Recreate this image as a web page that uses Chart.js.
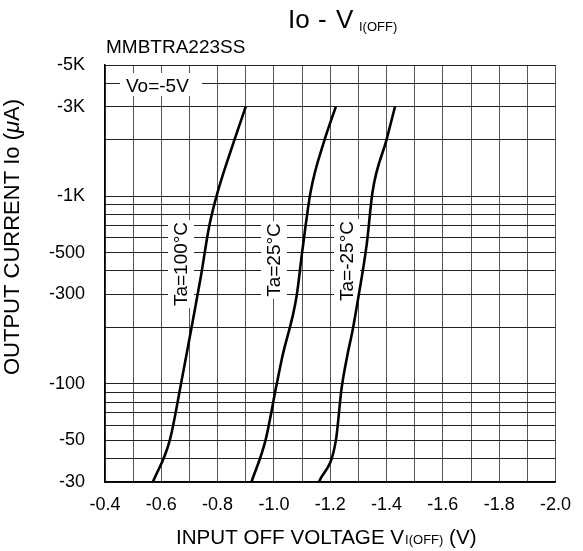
<!DOCTYPE html>
<html>
<head>
<meta charset="utf-8">
<script src="https://cdn.jsdelivr.net/npm/chart.js@4.4.0/dist/chart.umd.min.js"></script>
<style>
html, body { margin: 0; padding: 0; background: #fff; }
canvas { display: block; }
</style>
</head>
<body>
<canvas id="chart" width="583" height="551"></canvas>
<script>
// curves (V in volts, Io in uA, both negative on the sheet)
const volt100 = [-0.57, -0.63, -0.67, -0.71, -0.74, -0.77, -0.80, -0.86, -0.90];
const curr100 = [30, 50, 100, 210, 370, 690, 1050, 2000, 3000];
const volt25 = [-0.92, -0.97, -1.01, -1.03, -1.08, -1.10, -1.13, -1.18, -1.22];
const curr25 = [30, 50, 100, 140, 290, 500, 1050, 2000, 3000];
const voltM25 = [-1.16, -1.22, -1.24, -1.26, -1.28, -1.30, -1.33, -1.35, -1.40, -1.43];
const currM25 = [30, 50, 94, 140, 195, 290, 560, 1050, 2000, 3000];

const voltGrid = [-0.4, -0.5, -0.6, -0.7, -0.8, -0.9, -1.0, -1.1, -1.2, -1.3, -1.4, -1.5, -1.6, -1.7, -1.8, -1.9, -2.0];
const voltLabels = [-0.4, -0.6, -0.8, -1.0, -1.2, -1.4, -1.6, -1.8, -2.0];
const currGrid = [30, 40, 50, 60, 70, 80, 90, 100, 200, 300, 400, 500, 600, 700, 800, 900, 1000, 2000, 3000, 4000, 5000];
const currLabels = [30, 50, 100, 300, 500, 1000, 3000, 5000];

const tempNames = ['Ta=100°C', 'Ta=25°C', 'Ta=-25°C'];

const FONT = '"Liberation Sans", Arial, Helvetica, sans-serif';

function pts(xs, ys) {
  return xs.map((x, i) => ({ x: x, y: ys[i] }));
}

function curve(xs, ys) {
  return {
    data: pts(xs, ys),
    borderColor: '#000',
    borderWidth: 2.6,
    pointRadius: 0,
    fill: false,
    cubicInterpolationMode: 'monotone'
  };
}

const textPlugin = {
  id: 'sheetText',
  beforeDatasetsDraw(chart) {
    const ctx = chart.ctx;
    ctx.save();
    ctx.textBaseline = 'alphabetic';

    // condition box
    ctx.fillStyle = '#fff';
    ctx.fillRect(120, 73, 82, 23);
    ctx.fillStyle = '#000';
    ctx.font = '19px ' + FONT;
    ctx.textAlign = 'left';
    ctx.fillText('Vo=-5V', 126, 92);

    // temperature notes, rotated
    const spots = [[181, 264], [274, 260], [347, 261]];
    tempNames.forEach((t, i) => {
      ctx.save();
      ctx.translate(spots[i][0], spots[i][1]);
      ctx.rotate(-Math.PI / 2);
      ctx.font = '19px ' + FONT;
      const w = ctx.measureText(t).width;
      ctx.fillStyle = '#fff';
      ctx.fillRect(-w / 2 - 2, -13, w + 4, 26);
      ctx.fillStyle = '#000';
      ctx.textAlign = 'center';
      ctx.textBaseline = 'middle';
      ctx.fillText(t, 0, 1);
      ctx.restore();
    });
    ctx.restore();
  },
  afterDraw(chart) {
    const ctx = chart.ctx;
    ctx.save();
    ctx.fillStyle = '#000';
    ctx.textAlign = 'left';
    ctx.textBaseline = 'alphabetic';

    // title Io - V I(OFF)
    ctx.font = '26px ' + FONT;
    ctx.fillText('Io', 288, 28);
    ctx.fillText('-', 318, 28);
    ctx.fillText('V', 336, 28);
    ctx.font = '13px ' + FONT;
    ctx.fillText('I(OFF)', 359, 31);

    // part number
    ctx.font = '19px ' + FONT;
    ctx.fillText('MMBTRA223SS', 106, 53);

    // x title
    let x = 176;
    ctx.font = '20.6px ' + FONT;
    ctx.fillText('INPUT OFF VOLTAGE V', x, 544);
    x += ctx.measureText('INPUT OFF VOLTAGE V').width + 1;
    ctx.font = '13px ' + FONT;
    ctx.fillText('I(OFF)', x, 544);
    x += ctx.measureText('I(OFF)').width;
    ctx.font = '20.6px ' + FONT;
    ctx.fillText(' (V)', x, 544);

    // y title
    ctx.save();
    ctx.translate(19, 237);
    ctx.rotate(-Math.PI / 2);
    const parts = [['OUTPUT CURRENT Io (', '22px '], ['\u03bc', 'italic 22px '], ['A)', '22px ']];
    let total = 0;
    parts.forEach(p => { ctx.font = p[1] + FONT; total += ctx.measureText(p[0]).width; });
    let px = -total / 2;
    parts.forEach(p => {
      ctx.font = p[1] + FONT;
      ctx.fillText(p[0], px, 0);
      px += ctx.measureText(p[0]).width;
    });
    ctx.restore();

    ctx.restore();
  }
};

function fmtCurrent(v) {
  return v >= 1000 ? '-' + (v / 1000) + 'K' : '-' + v;
}

new Chart(document.getElementById('chart'), {
  type: 'line',
  data: {
    datasets: [curve(volt100, curr100), curve(volt25, curr25), curve(voltM25, currM25)]
  },
  options: {
    responsive: false,
    animation: false,
    layout: { padding: { left: 0, right: 19, top: 65, bottom: 0 } },
    plugins: { legend: { display: false }, tooltip: { enabled: false } },
    scales: {
      x: {
        type: 'linear',
        reverse: true,
        min: -2.0,
        max: -0.4,
        afterBuildTicks: s => { s.ticks = voltGrid.map(v => ({ value: v })); },
        afterFit: s => { s.height = 69; },
        grid: { color: '#555', lineWidth: 1, drawTicks: false },
        border: { color: '#000', width: 1.5 },
        ticks: {
          autoSkip: false,
          maxRotation: 0,
          padding: 12,
          color: '#000',
          font: { family: FONT, size: 18 },
          callback: v => voltLabels.includes(v) ? v.toFixed(1) : ''
        }
      },
      y: {
        type: 'logarithmic',
        min: 30,
        max: 5000,
        afterBuildTicks: s => { s.ticks = currGrid.map(v => ({ value: v })); },
        afterFit: s => { s.width = 105; },
        grid: { color: '#222', lineWidth: 1, drawTicks: false },
        border: { color: '#000', width: 1.5 },
        ticks: {
          autoSkip: false,
          padding: 20,
          color: '#000',
          font: { family: FONT, size: 18 },
          callback: v => currLabels.includes(v) ? fmtCurrent(v) : ''
        }
      }
    }
  },
  plugins: [textPlugin]
});
</script>
</body>
</html>
